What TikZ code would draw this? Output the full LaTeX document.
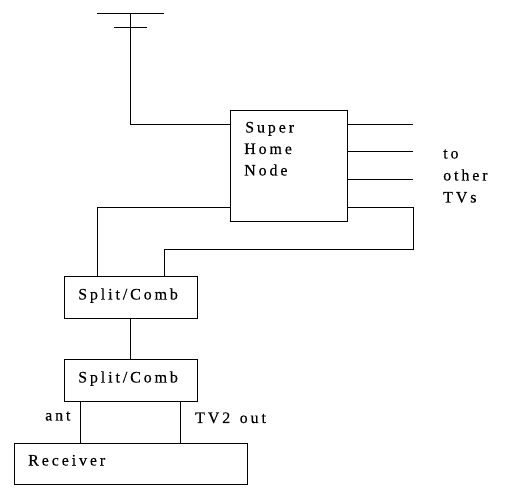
\documentclass[tikz,border=0pt]{standalone}
\usepackage{fontspec}
\setmainfont[LetterSpace=18,FakeBold=0.25]{Liberation Serif}
\begin{document}
\begin{tikzpicture}[x=1pt,y=-1pt,
  wire/.style={draw=black,line width=1.05pt},
  boxn/.style={draw=black,line width=1.05pt,fill=white,inner sep=0pt,outer sep=0pt,anchor=north west},
  lab/.style={inner sep=0pt,anchor=base west,font=\fontsize{16}{16}\selectfont,text=black}]
\useasboundingbox (0,0) rectangle (507,500);
% boxes
\node[boxn,minimum width=117.2pt,minimum height=111pt] (super) at (230.5,110.5) {};
\node[boxn,minimum width=133pt,minimum height=42pt] (sc1) at (64.5,276.5) {};
\node[boxn,minimum width=133pt,minimum height=42pt] (sc2) at (64.5,359.5) {};
\node[boxn,minimum width=233pt,minimum height=41pt] (recv) at (14.5,443.5) {};
% free ends
\coordinate (antT) at (130.5,13.5);
\coordinate (antL) at (97,13.5);
\coordinate (antR) at (164,13.5);
\coordinate (antL2) at (114,27.5);
\coordinate (antR2) at (147,27.5);
\coordinate (sIn) at (230.5,124.5);
\coordinate (o1s) at (347.7,124.5);
\coordinate (o1e) at (413,124.5);
\coordinate (o2s) at (347.7,151.5);
\coordinate (o2e) at (413,151.5);
\coordinate (o3s) at (347.7,179.5);
\coordinate (o3e) at (413,179.5);
\coordinate (o4s) at (347.7,207.5);
\coordinate (o4a) at (413.5,207.5);
\coordinate (o4b) at (413.5,249.5);
\coordinate (o4c) at (164.5,249.5);
\coordinate (o4d) at (164.5,276.5);
\coordinate (lS) at (230.5,207.5);
\coordinate (lA) at (97.5,207.5);
\coordinate (lB) at (97.5,276.5);
\coordinate (mA) at (130.5,318.5);
\coordinate (mB) at (130.5,359.5);
\coordinate (aA) at (80.5,401.5);
\coordinate (aB) at (80.5,443.5);
\coordinate (tA) at (180.5,401.5);
\coordinate (tB) at (180.5,443.5);
% connectors
\draw[wire] (antL) -- (antR);
\draw[wire] (antL2) -- (antR2);
\draw[wire] (antT) |- (sIn);
\draw[wire] (o1s) -- (o1e);
\draw[wire] (o2s) -- (o2e);
\draw[wire] (o3s) -- (o3e);
\draw[wire] (o4s) -- (o4a) -- (o4b) -- (o4c) -- (o4d);
\draw[wire] (lS) -- (lA) -- (lB);
\draw[wire] (mA) -- (mB);
\draw[wire] (aA) -- (aB);
\draw[wire] (tA) -- (tB);
% labels
\node[lab] (t1) at (245,132.5) {Super};
\node[lab] (t2) at (244,154) {Home};
\node[lab] (t3) at (244,175.5) {Node};
\node[lab] (t4) at (443,158.5) {to};
\node[lab] (t5) at (443,180.5) {other};
\node[lab] (t6) at (443,202.5) {TVs};
\node[lab] (t7) at (78,299.5) {Split/Comb};
\node[lab] (t8) at (78,382.5) {Split/Comb};
\node[lab] (t9) at (45,420.5) {ant};
\node[lab] (t10) at (195,423) {TV2\hspace{2.5pt} out};
\node[lab] (t11) at (28,465.5) {Receiver};
\end{tikzpicture}
\end{document}
